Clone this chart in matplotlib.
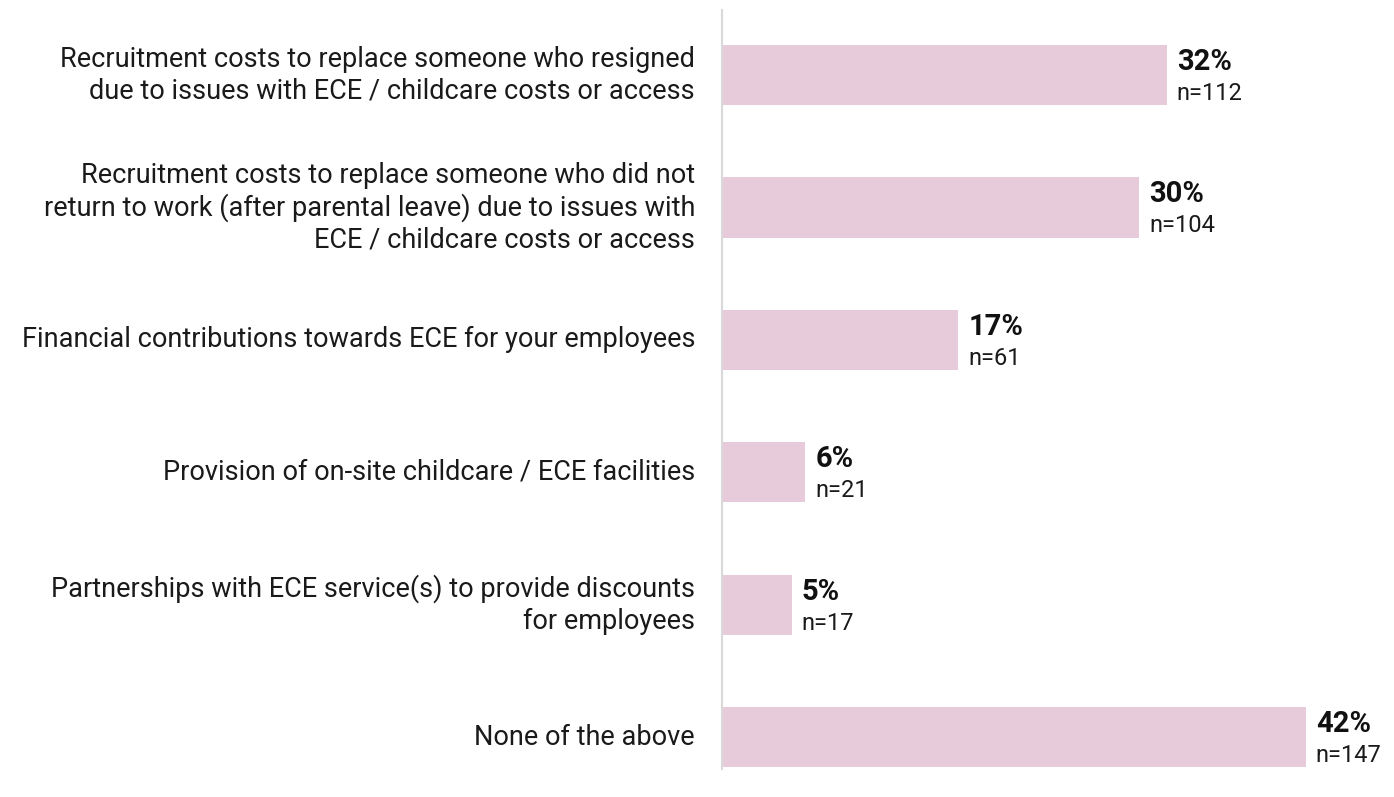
import matplotlib.pyplot as plt

categories = [
    "Recruitment costs to replace someone who resigned\ndue to issues with ECE / childcare costs or access",
    "Recruitment costs to replace someone who did not\nreturn to work (after parental leave) due to issues with\nECE / childcare costs or access",
    "Financial contributions towards ECE for your employees",
    "Provision of on-site childcare / ECE facilities",
    "Partnerships with ECE service(s) to provide discounts\nfor employees",
    "None of the above",
]
percents = [32, 30, 17, 6, 5, 42]
counts = [112, 104, 61, 21, 17, 147]

plt.rcParams['font.family'] = ['Roboto', 'DejaVu Sans']

fig = plt.figure(figsize=(13.94, 7.97), dpi=100)
ax = fig.add_axes([722 / 1394, 28 / 797, 672 / 1394, 759 / 797])

y = list(range(len(categories)))
ax.barh(y, percents, height=0.455, color='#e8cbdb')

ax.set_xlim(0, 672 / 13.9)
ax.set_ylim(5.24, -0.49)

# value labels: bold percentage with the respondent count underneath
for yi, p, n in zip(y, percents, counts):
    ax.text(p + 0.72, yi - 0.1, f"{p}%", fontsize=21, fontweight='bold',
            ha='left', va='center', color='#111111')
    ax.text(p + 0.72, yi + 0.14, f"n={n}", fontsize=17,
            ha='left', va='center', color='#1a1a1a')

for yi, label in zip(y, categories):
    ax.text(-27 / 13.9, yi, label, fontsize=19.5, ha='right', va='center',
            color='#1a1a1a', linespacing=1.2)

for s in ['top', 'right', 'bottom']:
    ax.spines[s].set_visible(False)
ax.spines['left'].set_color('#d9d9d9')
ax.spines['left'].set_linewidth(1.5)
ax.set_xticks([])
ax.set_yticks([])

fig.savefig('out.png', dpi=100)
